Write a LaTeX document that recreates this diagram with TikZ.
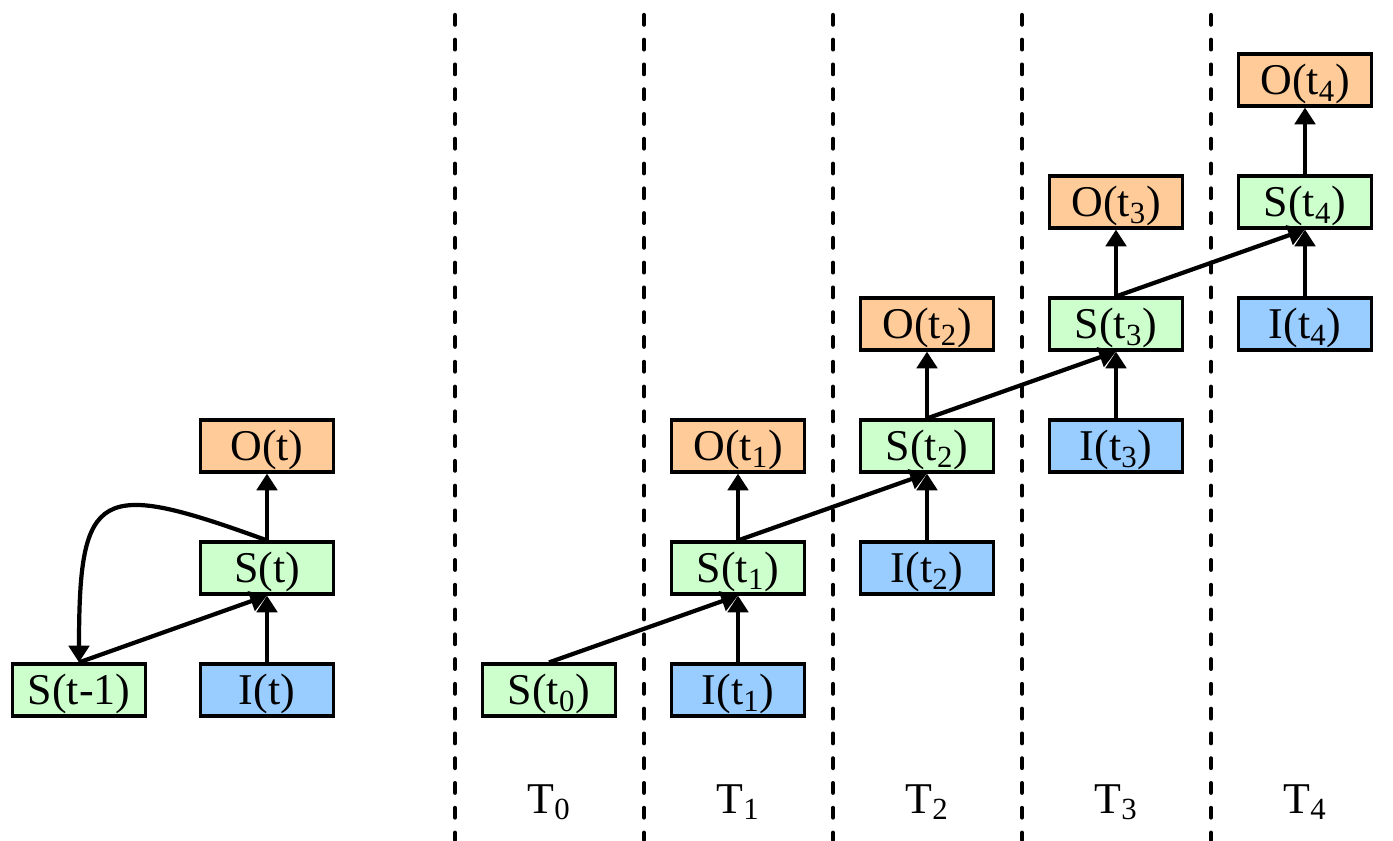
\documentclass[tikz,border=0pt]{standalone}
\usepackage{fontspec}
\setmainfont{Liberation Serif}
\usetikzlibrary{arrows.meta}
\definecolor{statecol}{RGB}{204,255,204}
\definecolor{inputcol}{RGB}{153,204,255}
\definecolor{outputcol}{RGB}{255,204,153}
\tikzset{
    % Box styles
    box/.style={rectangle, draw, line width=1.8pt, minimum width=2.66cm,
                minimum height=1.04cm, inner sep=0pt,
                font=\fontsize{25}{30}\selectfont, text height=21pt, text depth=4.5pt},
    state box/.style={box, fill=statecol},
    input box/.style={box, fill=inputcol},
    output box/.style={box, fill=outputcol},
    % Arrow styles
    arrow/.style={-{Triangle[length=9.5pt, width=11.5pt]}, line width=2.4pt},
    % Time step styles
    time sep/.style={line width=2.4pt, line cap=round, dash pattern=on 5.5pt off 8.6pt},
    time label/.style={font=\fontsize{25}{30}\selectfont, anchor=base},
}

\begin{document}
\begin{tikzpicture}
    \useasboundingbox (0,0) rectangle (27.86,16.8);

    % Time steps
    \foreach \k in {0,...,4} {
        \coordinate (top\k) at (9.1+3.78*\k, 16.5);
        \coordinate (bot\k) at (9.1+3.78*\k, 0);
        \draw[time sep] (top\k) -- (bot\k);
        \node[time label] (T\k) at (10.98+3.78*\k, 0.54) {T\textsubscript{\k}};
    }

    % Folded
    \node[state box] (sp) at (1.58, 3.0) {S(t-1)};
    \node[input box] (it) at (5.34, 3.0) {I(t)};
    \node[state box] (st) at (5.34, 5.44) {S(t)};
    \node[output box] (ot) at (5.34, 7.88) {O(t)};
    \draw[arrow] (it) -- (st);
    \draw[arrow] (st) -- (ot);
    \draw[arrow] (sp.north) -- (st.south);
    \draw[arrow] (st.north) .. controls +(160:3.6cm) and +(90:3.5cm) .. (sp.north);

    % Unfolded
    \node[state box] (s0) at (10.98, 3.0) {S(t\textsubscript{0})};
    \foreach \k in {1,...,4} {
        \pgfmathsetmacro{\xk}{10.98+3.78*\k}
        \pgfmathsetmacro{\yk}{3.0+2.44*(\k-1)}
        \node[input box] (i\k) at (\xk, \yk) {I(t\textsubscript{\k})};
        \node[state box] (s\k) at (\xk, \yk+2.44) {S(t\textsubscript{\k})};
        \node[output box] (o\k) at (\xk, \yk+4.88) {O(t\textsubscript{\k})};
        \draw[arrow] (i\k) -- (s\k);
        \draw[arrow] (s\k) -- (o\k);
    }
    \foreach \j/\k in {0/1, 1/2, 2/3, 3/4} {
        \draw[arrow] (s\j.north) -- (s\k.south);
    }
\end{tikzpicture}
\end{document}
